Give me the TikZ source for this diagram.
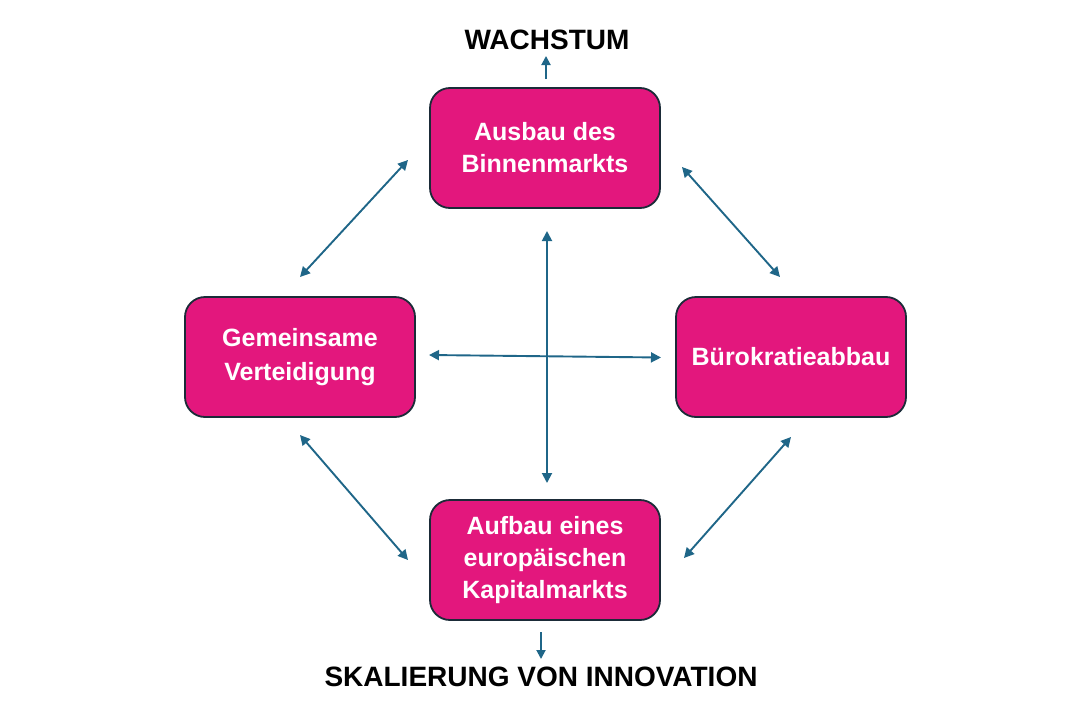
\documentclass[tikz,border=0pt]{standalone}
\usepackage{fontspec}
\setmainfont{Liberation Sans}
\usetikzlibrary{arrows.meta}
\definecolor{boxfill}{HTML}{E3177D}
\definecolor{boxline}{HTML}{1B2B38}
\definecolor{arrowc}{HTML}{1F6688}
\tikzset{
  pbox/.style={draw=boxline, line width=1.8pt, fill=boxfill, rounded corners=20pt,
    minimum width=230pt, minimum height=120pt, inner sep=0pt, align=center,
    text=white, font=\fontsize{25}{32}\selectfont\bfseries},
  lbl/.style={font=\fontsize{28}{32}\selectfont\bfseries, text=black, inner sep=0pt},
  conn/.style={draw=arrowc, line width=1.9pt, {Triangle[length=10pt,width=10pt]}-{Triangle[length=10pt,width=10pt]}},
  conn1/.style={draw=arrowc, line width=1.9pt, -{Triangle[length=9pt,width=9pt]}}
}
\begin{document}
\begin{tikzpicture}[x=1pt,y=-1pt]
\useasboundingbox (0,0) rectangle (1073,720);
\node[pbox] (top) at (545,148) {Ausbau des\\Binnenmarkts};
\node[pbox] (left) at (300,357) {Gemeinsame\\[2pt]Verteidigung};
\node[pbox] (right) at (791,357) {Bürokratieabbau};
\node[pbox] (bot) at (545,560) {Aufbau eines\\europäischen\\Kapitalmarkts};
\node[lbl] (wachs) at (547,40) {WACHSTUM};
\node[lbl] (skal) at (541,677) {SKALIERUNG VON INNOVATION};
% arrow end points
\coordinate (tlA) at (300,277); \coordinate (tlB) at (408,160);
\coordinate (trA) at (682,167); \coordinate (trB) at (780,277);
\coordinate (blA) at (300,435); \coordinate (blB) at (408,560);
\coordinate (brA) at (684,558); \coordinate (brB) at (791,437);
\coordinate (hA) at (429,355); \coordinate (hB) at (661,357.5);
\coordinate (vA) at (547,231); \coordinate (vB) at (547,483);
\coordinate (wA) at (546,79); \coordinate (wB) at (546,56);
\coordinate (sA) at (541,632); \coordinate (sB) at (541,659);
\draw[conn] (tlA) -- (tlB);
\draw[conn] (trA) -- (trB);
\draw[conn] (blA) -- (blB);
\draw[conn] (brA) -- (brB);
\draw[conn] (hA) -- (hB);
\draw[conn] (vA) -- (vB);
\draw[conn1] (wA) -- (wB);
\draw[conn1] (sA) -- (sB);
\end{tikzpicture}
\end{document}
